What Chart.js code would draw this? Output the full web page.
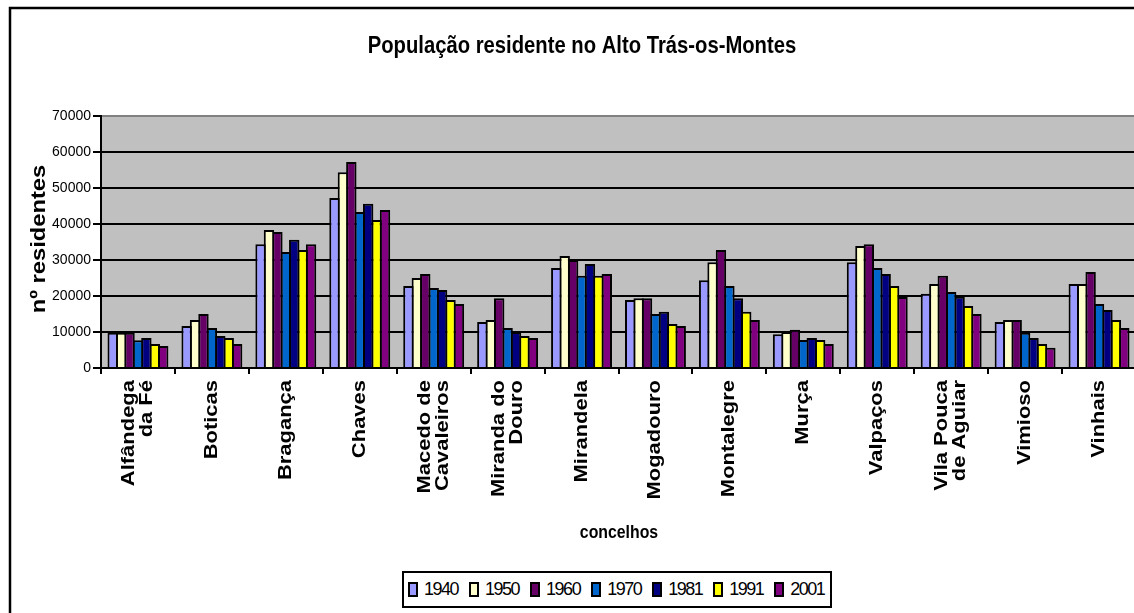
<!DOCTYPE html>
<html lang="pt">
<head>
<meta charset="utf-8">
<title>População residente no Alto Trás-os-Montes</title>
<script src="https://cdn.jsdelivr.net/npm/chart.js@4.4.1/dist/chart.umd.min.js"></script>
<style>
    html, body { margin: 0; padding: 0; background: #fff; overflow: hidden; }
    #wrap { position: relative; width: 1140px; height: 613px; }
    #legend {
        position: absolute; left: 402px; top: 571px;
        width: 430px; height: 37px; box-sizing: border-box;
        border: 2px solid #000; background: #fff;
        display: flex; align-items: center; padding-left: 4px;
        font-family: "Liberation Sans", Arial, sans-serif; font-size: 18px;
    }
    #legend .sw {
        display: inline-block; flex: 0 0 10px;
        width: 10px; height: 15px; box-sizing: border-box;
        border: 2px solid #000; margin-right: 6px;
    }
    #legend .lb { flex: none; letter-spacing: -1.5px; margin-right: 11px; color: #000; }
</style>
</head>
<body>
<div id="wrap">
    <canvas id="grafico" width="1140" height="613"></canvas>
    <div id="legend"></div>
</div>
<script>
// Dados
const concelhos = [
    ['Alfândega', 'da Fé'], 'Boticas', 'Bragança', 'Chaves', ['Macedo de', 'Cavaleiros'],
    ['Miranda do', 'Douro'], 'Mirandela', 'Mogadouro', 'Montalegre', 'Murça',
    'Valpaços', ['Vila Pouca', 'de Aguiar'], 'Vimioso', 'Vinhais'
];
const anos = ['1940', '1950', '1960', '1970', '1981', '1991', '2001'];

const pop1940 = [9800, 11700, 34400, 47200, 22800, 12800, 27800, 18900, 24400, 9400, 29400, 20600, 12800, 23300];
const pop1950 = [9800, 13300, 38300, 54400, 25000, 13300, 31100, 19400, 29400, 10000, 33900, 23300, 13300, 23300];
const pop1960 = [9800, 15000, 37800, 57200, 26100, 19400, 30000, 19400, 32800, 10600, 34400, 25600, 13300, 26700];
const pop1970 = [7700, 11100, 32200, 43300, 22200, 11100, 25600, 15000, 22800, 7800, 27800, 21100, 9800, 17800];
const pop1981 = [8300, 8900, 35600, 45600, 21700, 10000, 28900, 15600, 19400, 8300, 26100, 19800, 8300, 16100];
const pop1991 = [6700, 8300, 32800, 41100, 18900, 8900, 25600, 12200, 15600, 7800, 22800, 17200, 6700, 13300];
const pop2001 = [6100, 6700, 34400, 43900, 17800, 8300, 26100, 11700, 13300, 6700, 19700, 15000, 5600, 11100];

const series = [pop1940, pop1950, pop1960, pop1970, pop1981, pop1991, pop2001];
const cores  = ['#9999FF', '#FFFFCC', '#660066', '#0066CC', '#000080', '#FFFF00', '#800080'];

const FONTE = '"Liberation Sans", Arial, sans-serif';

// texto com largura esticada/comprimida, como no original do Excel
function texto(ctx, str, x, y, opts) {
    ctx.save();
    ctx.translate(x, y);
    if (opts.rot) ctx.rotate(opts.rot);
    ctx.scale(opts.sx || 1, 1);
    ctx.font = opts.font;
    ctx.fillStyle = '#000';
    ctx.textAlign = opts.align || 'center';
    ctx.textBaseline = 'middle';
    ctx.fillText(str, 0, 0);
    ctx.restore();
}

const moldura = {
    id: 'moldura',
    beforeDraw(chart) {
        const { ctx, chartArea: a } = chart;
        ctx.save();
        ctx.fillStyle = '#fff';
        ctx.fillRect(0, 0, chart.width, chart.height);
        ctx.strokeStyle = '#000';
        ctx.lineWidth = 2.5;
        ctx.strokeRect(10, 8, chart.width + 20, chart.height + 20);
        ctx.fillStyle = '#C0C0C0';
        ctx.fillRect(a.left, a.top, a.right - a.left, a.bottom - a.top);
        ctx.restore();
    },
    afterDraw(chart) {
        const ctx = chart.ctx;
        const x = chart.scales.x;

        texto(ctx, 'População residente no Alto Trás-os-Montes', 582, 47,
            { font: 'bold 23px ' + FONTE, sx: 0.88 });
        texto(ctx, 'nº residentes', 39, 239,
            { font: 'bold 21px ' + FONTE, sx: 1.13, rot: -Math.PI / 2 });
        texto(ctx, 'concelhos', 619, 533,
            { font: 'bold 18px ' + FONTE, sx: 0.88 });

        concelhos.forEach((label, i) => {
            const linhas = Array.isArray(label) ? label : [label];
            const cx = x.getPixelForValue(i);
            linhas.forEach((l, j) => {
                const lx = cx + (j - (linhas.length - 1) / 2) * 18;
                texto(ctx, l, lx, 380,
                    { font: 'bold 18px ' + FONTE, sx: 1.22, rot: -Math.PI / 2, align: 'right' });
            });
        });
    }
};

new Chart(document.getElementById('grafico'), {
    type: 'bar',
    data: {
        labels: concelhos,
        datasets: anos.map((ano, k) => ({
            label: ano,
            data: series[k],
            backgroundColor: cores[k],
            borderColor: '#000',
            borderWidth: 2,
            barPercentage: 1.237,
            categoryPercentage: 0.797
        }))
    },
    options: {
        responsive: false,
        animation: false,
        layout: { padding: { left: 10, right: 4, top: 116, bottom: 66 } },
        plugins: {
            legend: { display: false },
            title: { display: false },
            tooltip: { enabled: false }
        },
        scales: {
            x: {
                grid: { drawOnChartArea: false, drawTicks: true, tickLength: 6, color: '#000', lineWidth: 2 },
                border: { color: '#000', width: 2 },
                ticks: { display: false },
                afterFit(scale) { scale.height = 179; }
            },
            y: {
                min: 0,
                max: 70000,
                ticks: {
                    stepSize: 10000,
                    padding: 2,
                    color: '#000',
                    font: { family: FONTE, size: 14 },
                    callback: v => String(v)
                },
                grid: {
                    color: c => (c.tick && c.tick.value === 70000 ? '#808080' : '#000'),
                    tickColor: '#000',
                    lineWidth: 2,
                    tickLength: 8
                },
                border: { color: '#000', width: 2 },
                afterFit(scale) { scale.width = 91; }
            }
        }
    },
    plugins: [moldura]
});

// legenda
const legend = document.getElementById('legend');
legend.innerHTML = anos.map((ano, k) =>
    `<span class="sw" style="background:${cores[k]}"></span><span class="lb">${ano}</span>`
).join('');
</script>
</body>
</html>
